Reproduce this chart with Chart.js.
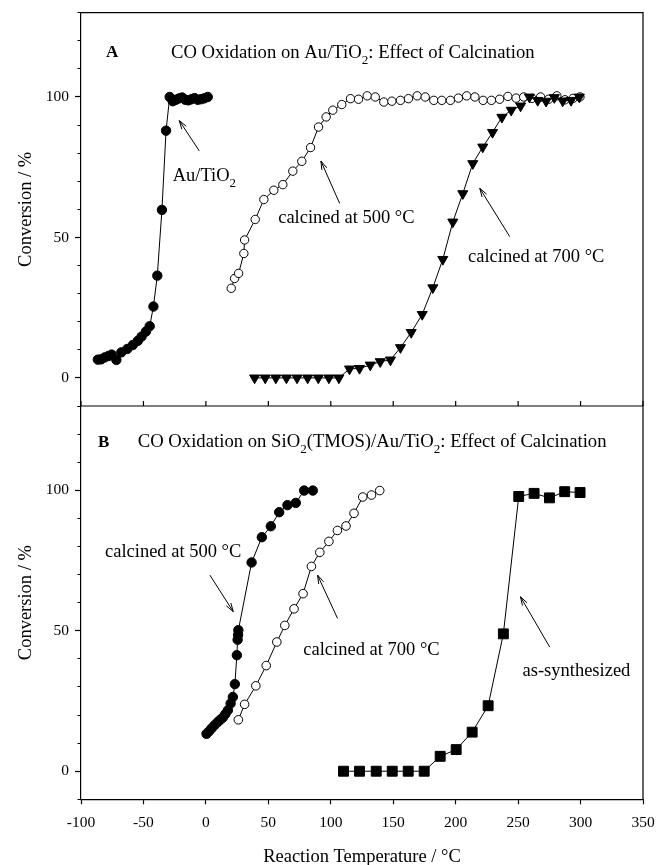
<!DOCTYPE html>
<html><head><meta charset="utf-8">
<script src="https://cdn.jsdelivr.net/npm/chart.js@4.4.1/dist/chart.umd.min.js"></script>
<style>html,body{margin:0;padding:0;background:#fff}canvas{display:block}</style>
</head><body>
<canvas id="c" width="658" height="865"></canvas>
<script>
// ---------- data : panel A (Au/TiO2) ----------
const aFreshT = [-86.5,-84,-81,-78,-75.5,-71.7,-67.7,-63,-58.5,-54.5,-51.5,-48,-45,-42,-38.9,-35.2,-31.9,-29,-26.5,-24,-21.5,-19,-16.5,-14,-11.5,-9,-6.5,-4,-1.5,1.5];
const aFreshY = [6.5,6.6,7.3,7.8,8.3,6.4,9.1,10.3,11.7,13.2,14.7,16.5,18.4,25.4,36.4,59.8,88,100,98.5,99,99.5,99.8,99,98.8,99.2,99.6,99,99.2,99.5,100];

const a500T = [20.3,23,26.2,30.4,31,39.5,46.4,54.4,61.6,69.6,76.8,83.8,90.2,96.3,101.6,108.8,115.8,122.2,129.2,135.6,142.5,148.9,155.8,162.2,169.2,175.6,182.5,188.9,195.8,202.2,208.8,215.4,222,228.6,235.2,241.8,248.4,254.5,261,268,274.5,281,287.5,294,299.5];
const a500Y = [31.9,35.4,37.2,44.3,49.1,56.4,63.5,66.8,68.8,73.6,77.1,82,89.3,92.9,95.3,97.3,99.4,99.2,100.4,100,98.2,98.5,98.8,99.4,100.4,100,98.8,98.8,98.8,99.6,100.4,100,98.8,98.8,99.2,100.2,99.6,100,99.5,100,99.2,100.4,99,99.5,100];

const a700T = [39,47.5,56,64.5,73,81.5,90,98.5,106.5,115,123,131.6,139.6,147.8,155.8,164.4,173.2,181.7,189.7,197.7,205.7,213.7,221.7,229.5,237,244.5,252,259,265.7,272.4,279,285.7,292.4,299];
const a700Y = [0,0,0,0,0,0,0,0,0,3.2,3.4,4.6,5.8,6.4,10.8,16.2,22.6,32.1,42.2,55.5,65.6,76.3,82.2,87.4,92.8,95.3,96.8,100,98.8,98.5,99.8,98.6,98.8,100];

// ---------- data : panel B (SiO2(TMOS)/Au/TiO2) ----------
const b500T = [0.5,2.5,4.5,7,9.5,11.5,13.6,15.5,17.6,19.8,21.6,23.2,24.8,25.4,25.8,26,36.6,44.8,52,58.7,65.3,72,78.7,85.6];
const b500Y = [13.3,14.2,15.2,16.4,17.5,18.3,19.1,20.3,21.7,24.1,26.4,31,41.3,46.8,48.5,50.2,74.3,83.3,87.2,92.2,94.7,95.5,99.9,99.9];

const b700T = [26,31,40,48.3,56.8,63.2,70.6,77.8,84.5,91.2,98.5,105.3,112.2,118.6,125.6,132.6,139.2];
const b700Y = [18.3,23.8,30.4,37.6,46,51.9,57.8,63.2,72.9,77.9,81.8,85.7,87.3,91.8,97.6,98.3,99.9];

const bAsT = [110.2,123,136.4,149.2,162,174.8,187.6,200.4,213.2,226,238.2,250.5,262.8,275.1,287.3,299.6];
const bAsY = [0,0,0,0,0,0,5.3,7.7,13.9,23.3,48.9,97.8,98.9,97.3,99.5,99.2];

// ---------- ticks ----------
const xTickValues = [-100,-50,0,50,100,150,200,250,300,350];
const yTickValues = [-10,0,10,20,30,40,50,60,70,80,90,100,110,120,130];
const yLabelValues = [0,50,100];

// ---------- texts ----------
const notes = [
  {axis:'yA', x:-80.0, y:114.1, text:'A', bold:true, size:17},
  {axis:'yA', x:-28.0, y:113.8, text:'CO Oxidation on Au/TiO_{2}: Effect of Calcination', size:18.7},
  {axis:'yA', x:-26.6, y:70.1, text:'Au/TiO_{2}'},
  {axis:'yA', x:57.9, y:55.0, text:'calcined at 500 \u00b0C'},
  {axis:'yA', x:209.9, y:41.4, text:'calcined at 700 \u00b0C'},
  {axis:'yB', x:-86.4, y:115.4, text:'B', bold:true, size:17},
  {axis:'yB', x:-54.6, y:115.4, text:'CO Oxidation on SiO_{2}(TMOS)/Au/TiO_{2}: Effect of Calcination', size:18.7},
  {axis:'yB', x:-80.8, y:76.4, text:'calcined at 500 \u00b0C'},
  {axis:'yB', x:78.0, y:41.4, text:'calcined at 700 \u00b0C'},
  {axis:'yB', x:253.5, y:33.9, text:'as-synthesized'}
];
const arrows = [
  {axis:'yA', from:[-5.3,80.8], to:[-21.3,91.6]},
  {axis:'yA', from:[107.1,62.1], to:[92.1,77.2]},
  {axis:'yA', from:[243.3,50.3], to:[219.3,67.5]},
  {axis:'yB', from:[3.2,69.8], to:[21.9,56.8]},
  {axis:'yB', from:[105.4,54.4], to:[89.4,69.8]},
  {axis:'yB', from:[275.3,44.2], to:[251.9,62.1]}
];

const SERIF = '"Liberation Serif", "Times New Roman", Times, serif';
Chart.defaults.font.family = SERIF;
Chart.defaults.color = '#000';

function pts(xs, ys){ return xs.map((x,i)=>({x:x, y:ys[i]})); }

function parseRich(str){
  const parts=[]; const re=/(_|\^)\{([^}]*)\}/g; let last=0, m;
  while((m=re.exec(str))){ if(m.index>last) parts.push({t:str.slice(last,m.index)}); parts.push({t:m[2], sub:m[1]==='_', sup:m[1]==='^'}); last=re.lastIndex; }
  if(last<str.length) parts.push({t:str.slice(last)});
  return parts;
}
function drawRich(ctx, str, x, y, size, bold){
  let cx=x;
  for(const p of parseRich(str)){
    const small=p.sub||p.sup; const s=small? size*0.7 : size;
    ctx.font=(bold?'bold ':'')+s+'px '+SERIF;
    const dy=p.sub? size*0.3 : (p.sup? -size*0.4 : 0);
    ctx.fillText(p.t, cx, y+dy);
    cx+=ctx.measureText(p.t).width;
  }
}
function drawArrow(ctx,x1,y1,x2,y2){
  const a=Math.atan2(y2-y1,x2-x1), L=9, w=0.3;
  ctx.beginPath(); ctx.moveTo(x1,y1); ctx.lineTo(x2,y2);
  ctx.moveTo(x2-L*Math.cos(a-w), y2-L*Math.sin(a-w)); ctx.lineTo(x2,y2);
  ctx.lineTo(x2-L*Math.cos(a+w), y2-L*Math.sin(a+w));
  ctx.stroke();
}

const framePlugin = {
  id:'frame',
  afterDraw(chart){
    const {ctx, chartArea:a, scales} = chart;
    const xs = scales.x, yA = scales.yA;
    ctx.save();
    ctx.strokeStyle='#000'; ctx.lineWidth=1.2;
    ctx.beginPath();
    ctx.moveTo(a.left, a.top); ctx.lineTo(a.right, a.top); ctx.lineTo(a.right, a.bottom);
    const sep = yA.getPixelForValue(-10);
    ctx.moveTo(a.left, sep); ctx.lineTo(a.right, sep);
    ctx.stroke();
    // inner ticks on panel A bottom
    ctx.beginPath();
    for(const v of xTickValues){ const px = xs.getPixelForValue(v); ctx.moveTo(px, sep); ctx.lineTo(px, sep-5); }
    ctx.stroke();
    // arrows
    ctx.lineWidth=1;
    for(const ar of arrows){
      const ys=scales[ar.axis];
      drawArrow(ctx, xs.getPixelForValue(ar.from[0]), ys.getPixelForValue(ar.from[1]), xs.getPixelForValue(ar.to[0]), ys.getPixelForValue(ar.to[1]));
    }
    // texts
    ctx.fillStyle='#000'; ctx.textBaseline='alphabetic'; ctx.textAlign='left';
    for(const n of notes){
      const ys=scales[n.axis];
      drawRich(ctx, n.text, xs.getPixelForValue(n.x), ys.getPixelForValue(n.y), n.size||18.5, n.bold);
    }
    ctx.restore();
  }
};

function yAxis(weight){
  return {
    type:'linear', position:'left', stack:'panels', stackWeight:1, weight:weight,
    min:-10, max:130,
    afterBuildTicks: s => { s.ticks = yTickValues.map(v=>({value:v})); },
    ticks:{ autoSkip:false, padding:6, font:{size:15.5}, color:'#000',
      callback: v => yLabelValues.includes(v) ? String(v) : '' },
    grid:{ drawOnChartArea:false, tickLength:6, tickWidth:1.2, tickColor:'#000',
      tickBorderDash: c => (c.tick && !yLabelValues.includes(c.tick.value)) ? [0,2.5,20,20] : [] },
    border:{ color:'#000', width:1.2 },
    title:{ display:true, text:'Conversion / %', color:'#000', font:{size:18.5, lineHeight:1.2}, padding:{top:15.5, bottom:0} },
    afterFit: s => { s.width = 81; s.paddingTop = 0; s.paddingBottom = 0; }
  };
}

const common = { borderColor:'#000', borderWidth:1, pointBorderColor:'#000', pointBorderWidth:1, tension:0, fill:false };

new Chart(document.getElementById('c'), {
  type:'line',
  data:{ datasets:[
    Object.assign({label:'calcined at 700 \u00b0C (A)', data:pts(a700T,a700Y), yAxisID:'yA', pointStyle:'triangle', rotation:180, pointRadius:5.8, pointBackgroundColor:'#000'}, common),
    Object.assign({label:'calcined at 500 \u00b0C (A)', data:pts(a500T,a500Y), yAxisID:'yA', pointStyle:'circle', pointRadius:4.2, pointBackgroundColor:'#fff'}, common),
    Object.assign({label:'Au/TiO2', data:pts(aFreshT,aFreshY), yAxisID:'yA', pointStyle:'circle', pointRadius:4.7, pointBackgroundColor:'#000'}, common),
    Object.assign({label:'calcined at 500 \u00b0C (B)', data:pts(b500T,b500Y), yAxisID:'yB', pointStyle:'circle', pointRadius:4.7, pointBackgroundColor:'#000'}, common),
    Object.assign({label:'calcined at 700 \u00b0C (B)', data:pts(b700T,b700Y), yAxisID:'yB', pointStyle:'circle', pointRadius:4.3, pointBackgroundColor:'#fff'}, common),
    Object.assign({label:'as-synthesized', data:pts(bAsT,bAsY), yAxisID:'yB', pointStyle:'rect', pointRadius:7, pointBackgroundColor:'#000'}, common)
  ]},
  options:{
    responsive:false, animation:false, devicePixelRatio:1,
    layout:{ padding:{ top:12.7, right:15, left:0, bottom:0 } },
    plugins:{ legend:{display:false}, tooltip:{enabled:false} },
    events:[],
    scales:{
      x:{ type:'linear', position:'bottom', min:-100, max:350,
        afterBuildTicks: s => { s.ticks = xTickValues.map(v=>({value:v})); },
        ticks:{ autoSkip:false, maxRotation:0, padding:9, font:{size:15.5}, color:'#000' },
        grid:{ drawOnChartArea:false, tickLength:5, tickWidth:1.2, tickColor:'#000' },
        border:{ color:'#000', width:1.2 },
        title:{ display:true, text:'Reaction Temperature / \u00b0C', color:'#000', font:{size:18.5, lineHeight:1}, padding:{top:0,bottom:-1.5} },
        afterFit: s => { s.height = 65.7; s.paddingLeft = 0; s.paddingRight = 0; }
      },
      yB: yAxis(1),
      yA: yAxis(2)
    }
  },
  plugins:[framePlugin]
});
</script>
</body></html>
